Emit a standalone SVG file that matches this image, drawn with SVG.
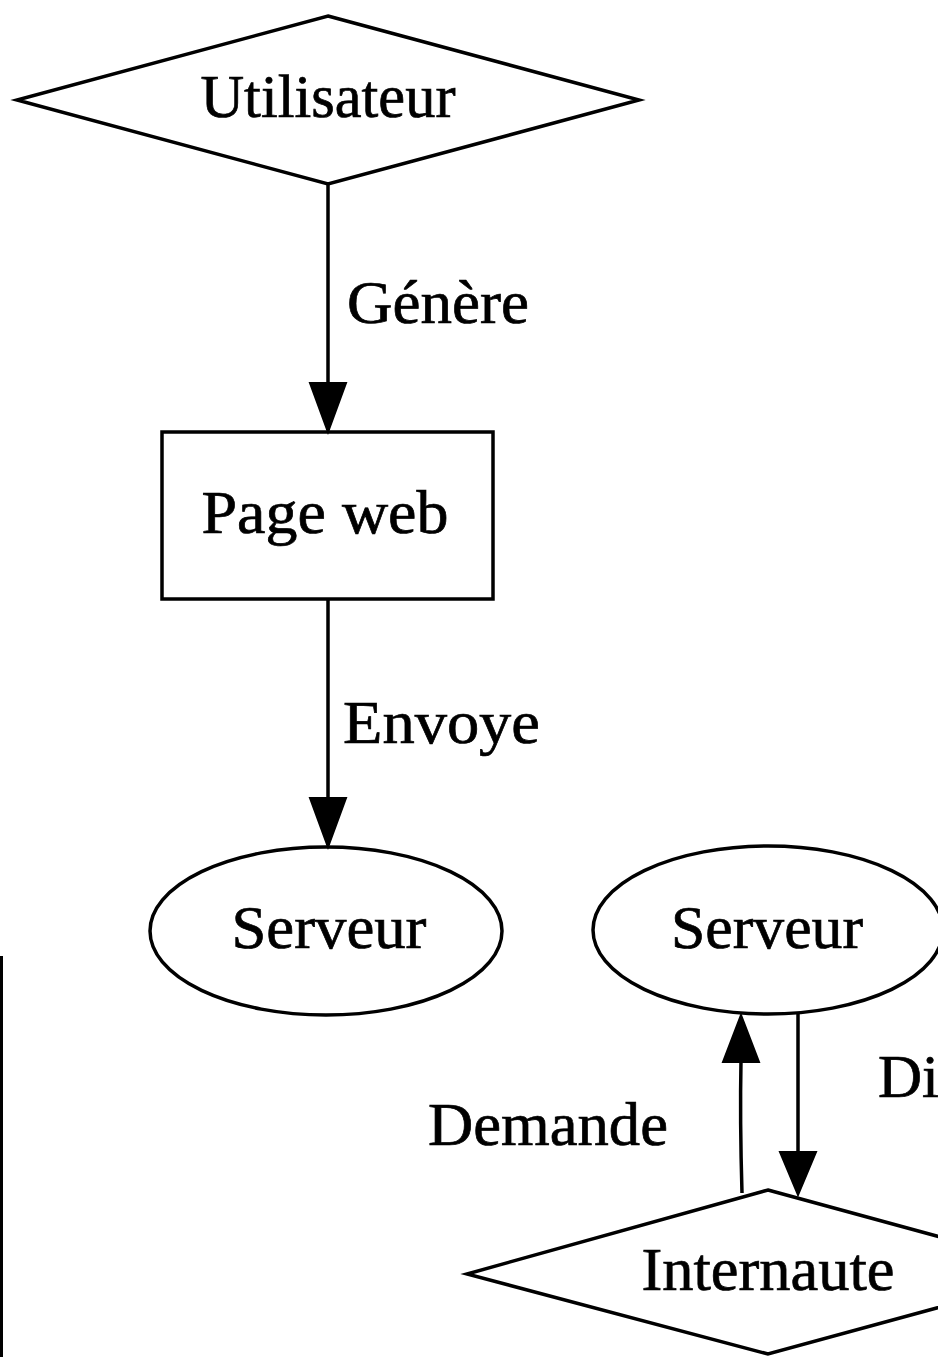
<svg xmlns="http://www.w3.org/2000/svg" width="938" height="1357" viewBox="0 0 938 1357">
<style>
.shape{fill:none;stroke:#000;stroke-width:3.5;stroke-linejoin:miter}
.edge{fill:none;stroke:#000;stroke-width:3.5}
.head{fill:#000;stroke:#000;stroke-width:2}
text{font-family:"Liberation Serif","Times New Roman",serif;font-size:61px;fill:#000;stroke:#000;stroke-width:0.7}
.c{text-anchor:middle}
</style>
<rect width="938" height="1357" fill="#fff"/>
<g id="connectors">
  <g id="e-genere">
    <line class="edge" x1="328" y1="184" x2="328" y2="384"/>
    <polygon class="head" points="310,383 346,383 328,432"/>
    <text x="347" y="323" textLength="182" lengthAdjust="spacingAndGlyphs">Génère</text>
  </g>
  <g id="e-envoye">
    <line class="edge" x1="328" y1="599" x2="328" y2="799"/>
    <polygon class="head" points="310,798 346,798 328,847"/>
    <text x="343" y="743" textLength="197" lengthAdjust="spacingAndGlyphs">Envoye</text>
  </g>
  <g id="e-demande">
    <path class="edge" d="M742,1193 C741,1160 740,1110 741,1060"/>
    <polygon class="head" points="723,1062 759,1062 741,1015"/>
    <text x="428" y="1145" textLength="240" lengthAdjust="spacingAndGlyphs">Demande</text>
  </g>
  <g id="e-diffuse">
    <line class="edge" x1="798" y1="1014" x2="798" y2="1154"/>
    <polygon class="head" points="780,1152 816,1152 798,1195"/>
    <text x="878" y="1097">Di</text>
  </g>
</g>
<g id="n-utilisateur">
  <polygon class="shape" points="328,16 639,100 328,184 17,100"/>
  <text x="328" y="117" class="c" textLength="255" lengthAdjust="spacingAndGlyphs">Utilisateur</text>
</g>
<g id="n-pageweb">
  <rect class="shape" x="162" y="432" width="331" height="167"/>
  <text x="325" y="533" class="c" textLength="247" lengthAdjust="spacingAndGlyphs">Page web</text>
</g>
<g id="n-serveur1">
  <ellipse class="shape" cx="326" cy="931" rx="176" ry="84"/>
  <text x="329" y="948" class="c" textLength="195" lengthAdjust="spacingAndGlyphs">Serveur</text>
</g>
<g id="n-serveur2">
  <ellipse class="shape" cx="768" cy="930" rx="175" ry="84"/>
  <text x="767" y="948" class="c" textLength="192" lengthAdjust="spacingAndGlyphs">Serveur</text>
</g>
<g id="n-internaute">
  <polygon class="shape" points="768,1190 1069,1272 768,1354 467,1274"/>
  <text x="768" y="1290" class="c" textLength="253" lengthAdjust="spacingAndGlyphs">Internaute</text>
</g>
<g id="n-left-clipped">
  <line x1="1.5" y1="956" x2="1.5" y2="1357" stroke="#000" stroke-width="3"/>
</g>
</svg>
